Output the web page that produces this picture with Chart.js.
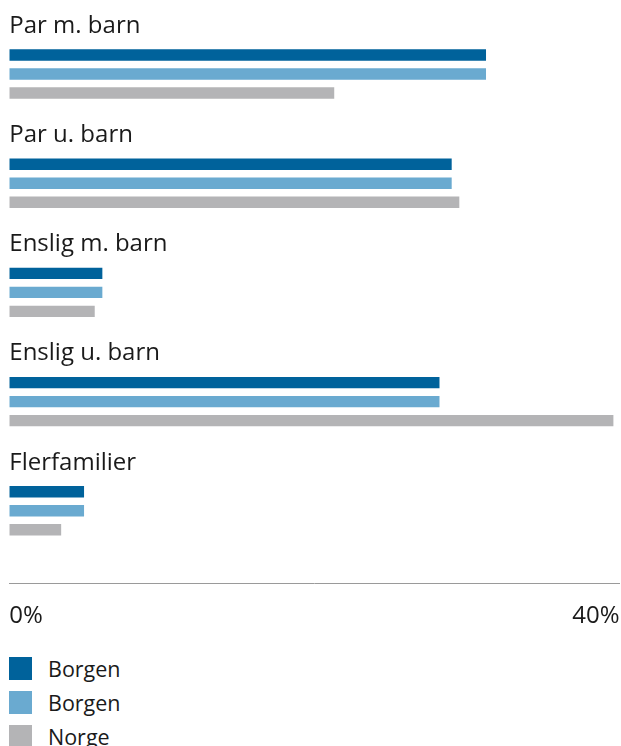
<!DOCTYPE html>
<html>
<head>
<meta charset="utf-8">
<script src="https://cdn.jsdelivr.net/npm/chart.js@4"></script>
<style>
  body { margin: 0; background: #fff; font-family: "Open Sans", sans-serif; color: #1a1a1a; }
  #wrap { width: 621px; height: 640px; }
  #legend { margin-top: 11px; }
  .item { display: flex; align-items: center; height: 34px; font-size: 21.5px; }
  .box { width: 23px; height: 23px; margin-left: 9px; margin-right: 16px; }
</style>
</head>
<body>
<div id="wrap"><canvas id="chart-1" width="621" height="640"></canvas></div>
<div id="legend"></div>
<script>
const categories = ["Par m. barn", "Par u. barn", "Enslig m. barn", "Enslig u. barn", "Flerfamilier"];
const seriesNames = ["Borgen", "Borgen", "Norge"];
const borgen_1 = [31.25, 29.0, 6.1, 28.2, 4.9];
const borgen_2 = [31.25, 29.0, 6.1, 28.2, 4.9];
const norge = [21.3, 29.5, 5.6, 39.6, 3.4];
const tickValues = [0, 40];
const seriesColors = ["#00629b", "#6aaad0", "#b4b4b6"];

const series = [borgen_1, borgen_2, norge];

const ctx_1 = document.getElementById("chart-1");
new Chart(ctx_1, {
  type: "bar",
  data: {
    labels: categories,
    datasets: series.map((values, i) => ({
      label: seriesNames[i],
      data: values,
      backgroundColor: seriesColors[i],
      categoryPercentage: 0.522,
      barPercentage: 0.6,
    })),
  },
  options: {
    indexAxis: "y",
    responsive: false,
    animation: false,
    layout: {
      padding: { top: 19.4, bottom: 74.6, left: 9.3, right: 1.5 },
    },
    scales: {
      x: {
        type: "linear",
        min: 0,
        max: 40,
        // axis line sits a bit below the last group
        position: { y: 4.664 },
        afterFit: function (scale) {
          scale.height = 0;
          scale.paddingLeft = 0;
          scale.paddingRight = 0;
        },
        afterBuildTicks: function (scale) {
          scale.ticks = tickValues.map((v) => ({ value: v }));
        },
        grid: { display: false, drawTicks: false },
        border: { display: true, color: "#9a9a9a", width: 1 },
        ticks: {
          align: "inner",
          padding: 18,
          color: "#1a1a1a",
          font: { family: "Open Sans", size: 24 },
          callback: (v) => `${v}%`,
        },
      },
      y: {
        grid: { display: false, drawTicks: false },
        border: { display: false },
        afterFit: function (scale) {
          scale.width = 0;
          scale.paddingTop = 0;
          scale.paddingBottom = 0;
        },
        ticks: {
          mirror: true,
          padding: 0,
          labelOffset: -48,
          color: "#1a1a1a",
          font: { family: "Open Sans", size: 24 },
        },
      },
    },
    plugins: {
      legend: { display: false },
      tooltip: { enabled: true },
    },
  },
});

const legend = document.getElementById("legend");
seriesNames.forEach((name, i) => {
  const row = document.createElement("div");
  row.className = "item";
  row.innerHTML = `<span class="box" style="background:${seriesColors[i]}"></span><span>${name}</span>`;
  legend.appendChild(row);
});
</script>
</body>
</html>
